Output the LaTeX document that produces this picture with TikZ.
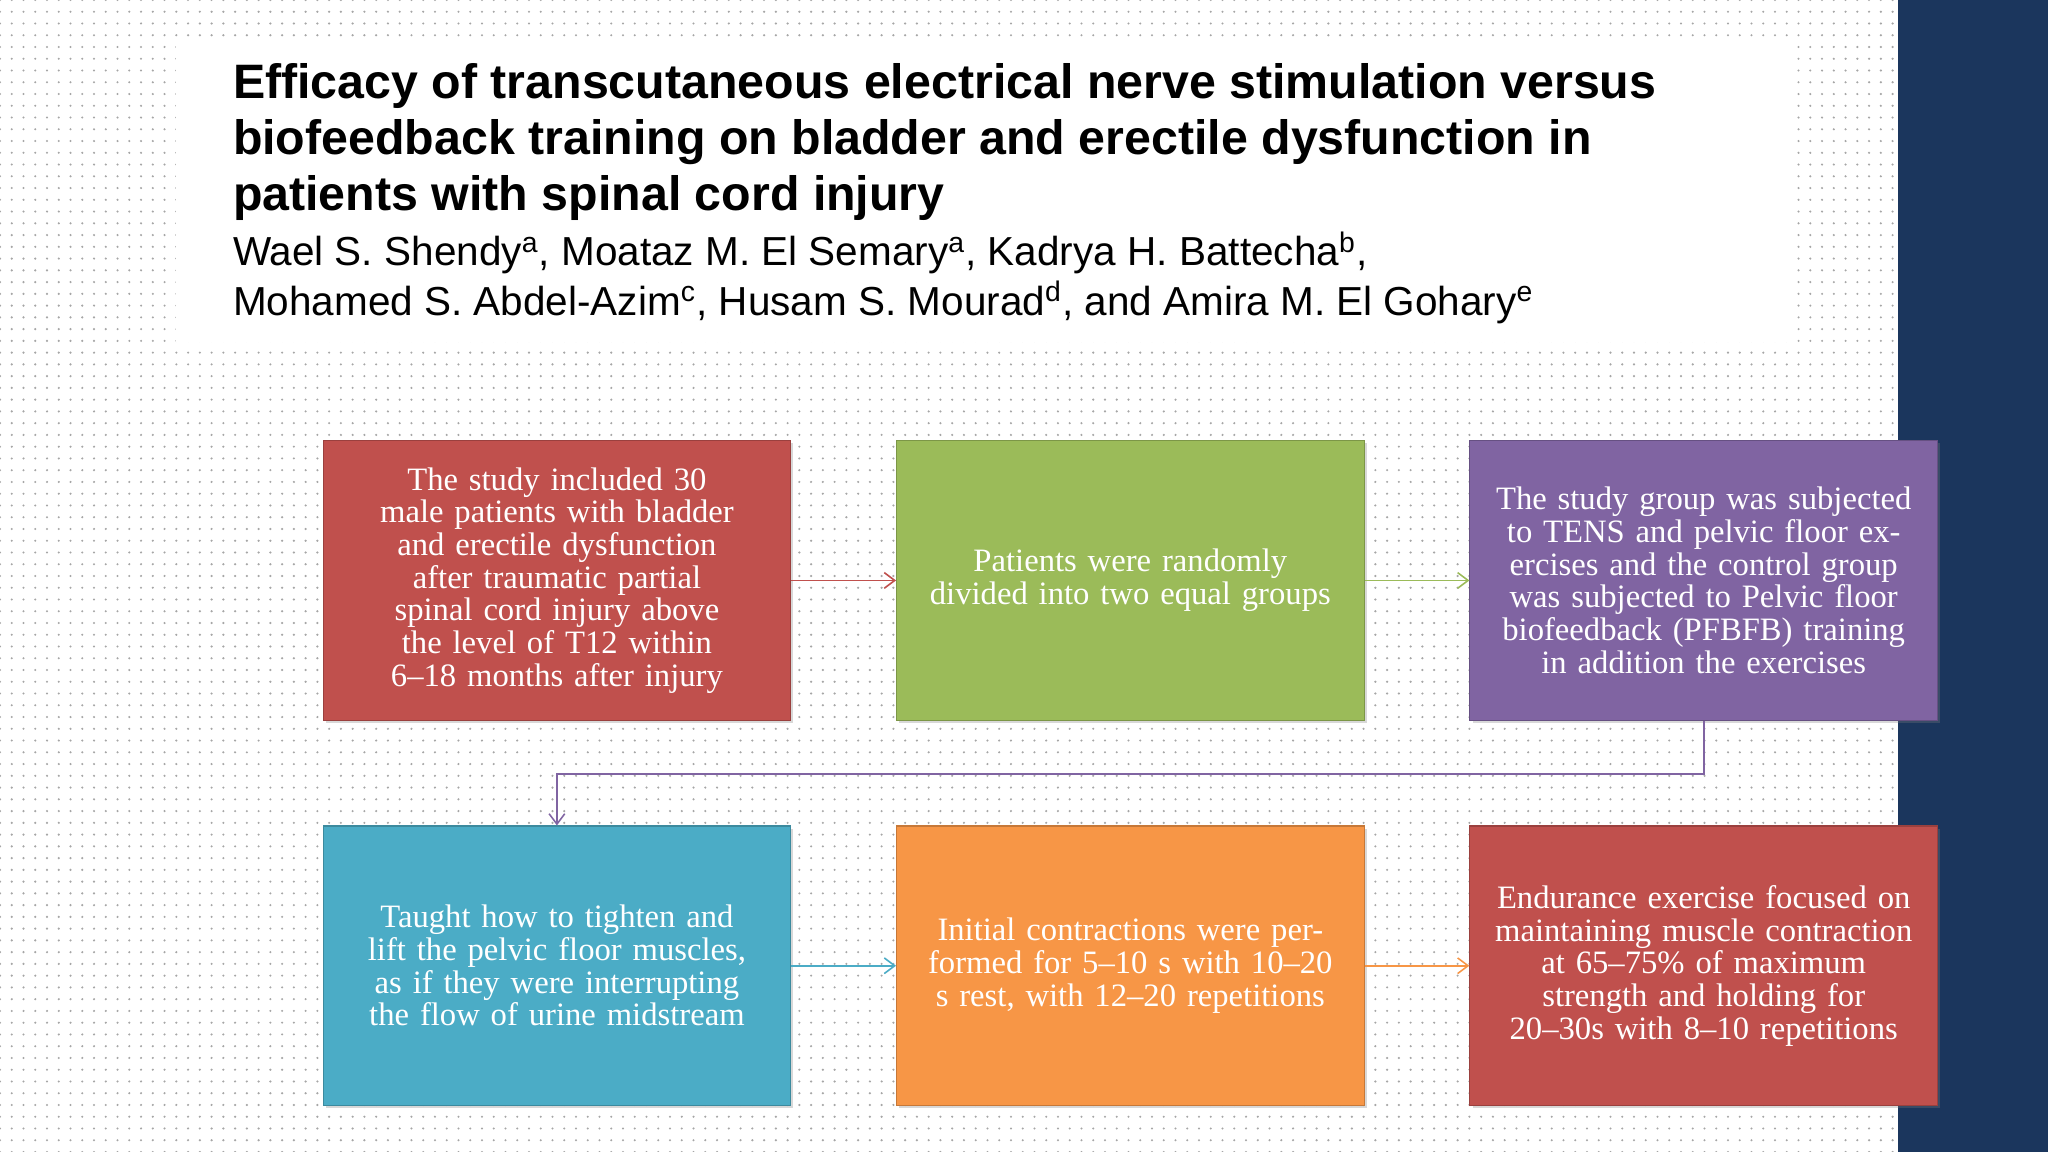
\documentclass[tikz,border=0pt]{standalone}
\usepackage{fontspec}
\setmainfont{Liberation Serif}
\newfontfamily\titlefont{Liberation Sans}
\usetikzlibrary{patterns.meta,arrows.meta,positioning,shadows}
\definecolor{cRed}{HTML}{C0504D}
\definecolor{cGreen}{HTML}{9BBB59}
\definecolor{cPurple}{HTML}{8064A2}
\definecolor{cTeal}{HTML}{4BACC6}
\definecolor{cOrange}{HTML}{F79646}
\definecolor{cNavy}{HTML}{1B365D}
\begin{document}
\begin{tikzpicture}[x=0.5pt,y=-0.5pt,
  box/.style={draw=#1!80!black, line width=0.4pt, fill=#1, minimum width=179pt, minimum height=107pt,
    text width=160pt, align=center, text=white, font=\fontsize{12.5}{12.5}\selectfont,
    inner sep=0pt, anchor=north west, drop shadow={opacity=0.3,shadow xshift=1pt,shadow yshift=-1pt}},
  conn/.style={draw=#1, line width=0.6pt, -{Straight Barb[length=4pt,width=6pt]}}]
\useasboundingbox (0,0) rectangle (1568,882);
\fill[white] (0,0) rectangle (1453,882);
\fill[pattern={Dots[distance=4.5pt,radius=0.45pt]},pattern color=gray!70] (0,0) rectangle (1453,882);
\fill[cNavy] (1453,0) rectangle (1568,882);
\fill[white] (135,30) rectangle (1375,262);
\node[anchor=north west, align=left, inner sep=0pt, font=\titlefont\bfseries\fontsize{18.5}{21.5}\selectfont] (title) at (178,48)
 {Efficacy of transcutaneous electrical nerve stimulation versus\\ biofeedback training on bladder and erectile dysfunction in\\ patients with spinal cord injury};
\node[anchor=north west, align=left, inner sep=0pt, font=\titlefont\fontsize{15.5}{19}\selectfont] (auth) at (178,177)
 {Wael S. Shendy\textsuperscript{a}, Moataz M. El Semary\textsuperscript{a}, Kadrya H. Battecha\textsuperscript{b},\\ Mohamed S. Abdel-Azim\textsuperscript{c}, Husam S. Mourad\textsuperscript{d}, and Amira M. El Gohary\textsuperscript{e}};
\node[box=cRed] (b1) at (247,337) {The study included 30 male patients with bladder and erectile dysfunction after traumatic partial spinal cord injury above the level of T12 within 6--18 months after injury};
\node[box=cGreen] (b2) at (686,337) {Patients were randomly divided into two equal groups};
\node[box=cPurple] (b3) at (1125,337) {The study group was subjected to TENS and pelvic floor exercises and the control group was subjected to Pelvic floor biofeedback (PFBFB) training in addition the exercises};
\node[box=cTeal] (b4) at (247,632) {Taught how to tighten and lift the pelvic floor muscles, as if they were interrupting the flow of urine midstream};
\node[box=cOrange] (b5) at (686,632) {Initial contractions were performed for 5--10 s with 10--20 s rest, with 12--20 repetitions};
\node[box=cRed] (b6) at (1125,632) {Endurance exercise focused on maintaining muscle contraction at 65--75\% of maximum strength and holding for 20--30s with 8--10 repetitions};
\draw[conn=cRed] (b1.east) -- (b2.west);
\draw[conn=cGreen] (b2.east) -- (b3.west);
\draw[conn=cPurple] (b3.south) -- ++(0,41) -| (b4.north);
\draw[conn=cTeal] (b4.east) -- (b5.west);
\draw[conn=cOrange] (b5.east) -- (b6.west);
\end{tikzpicture}
\end{document}
